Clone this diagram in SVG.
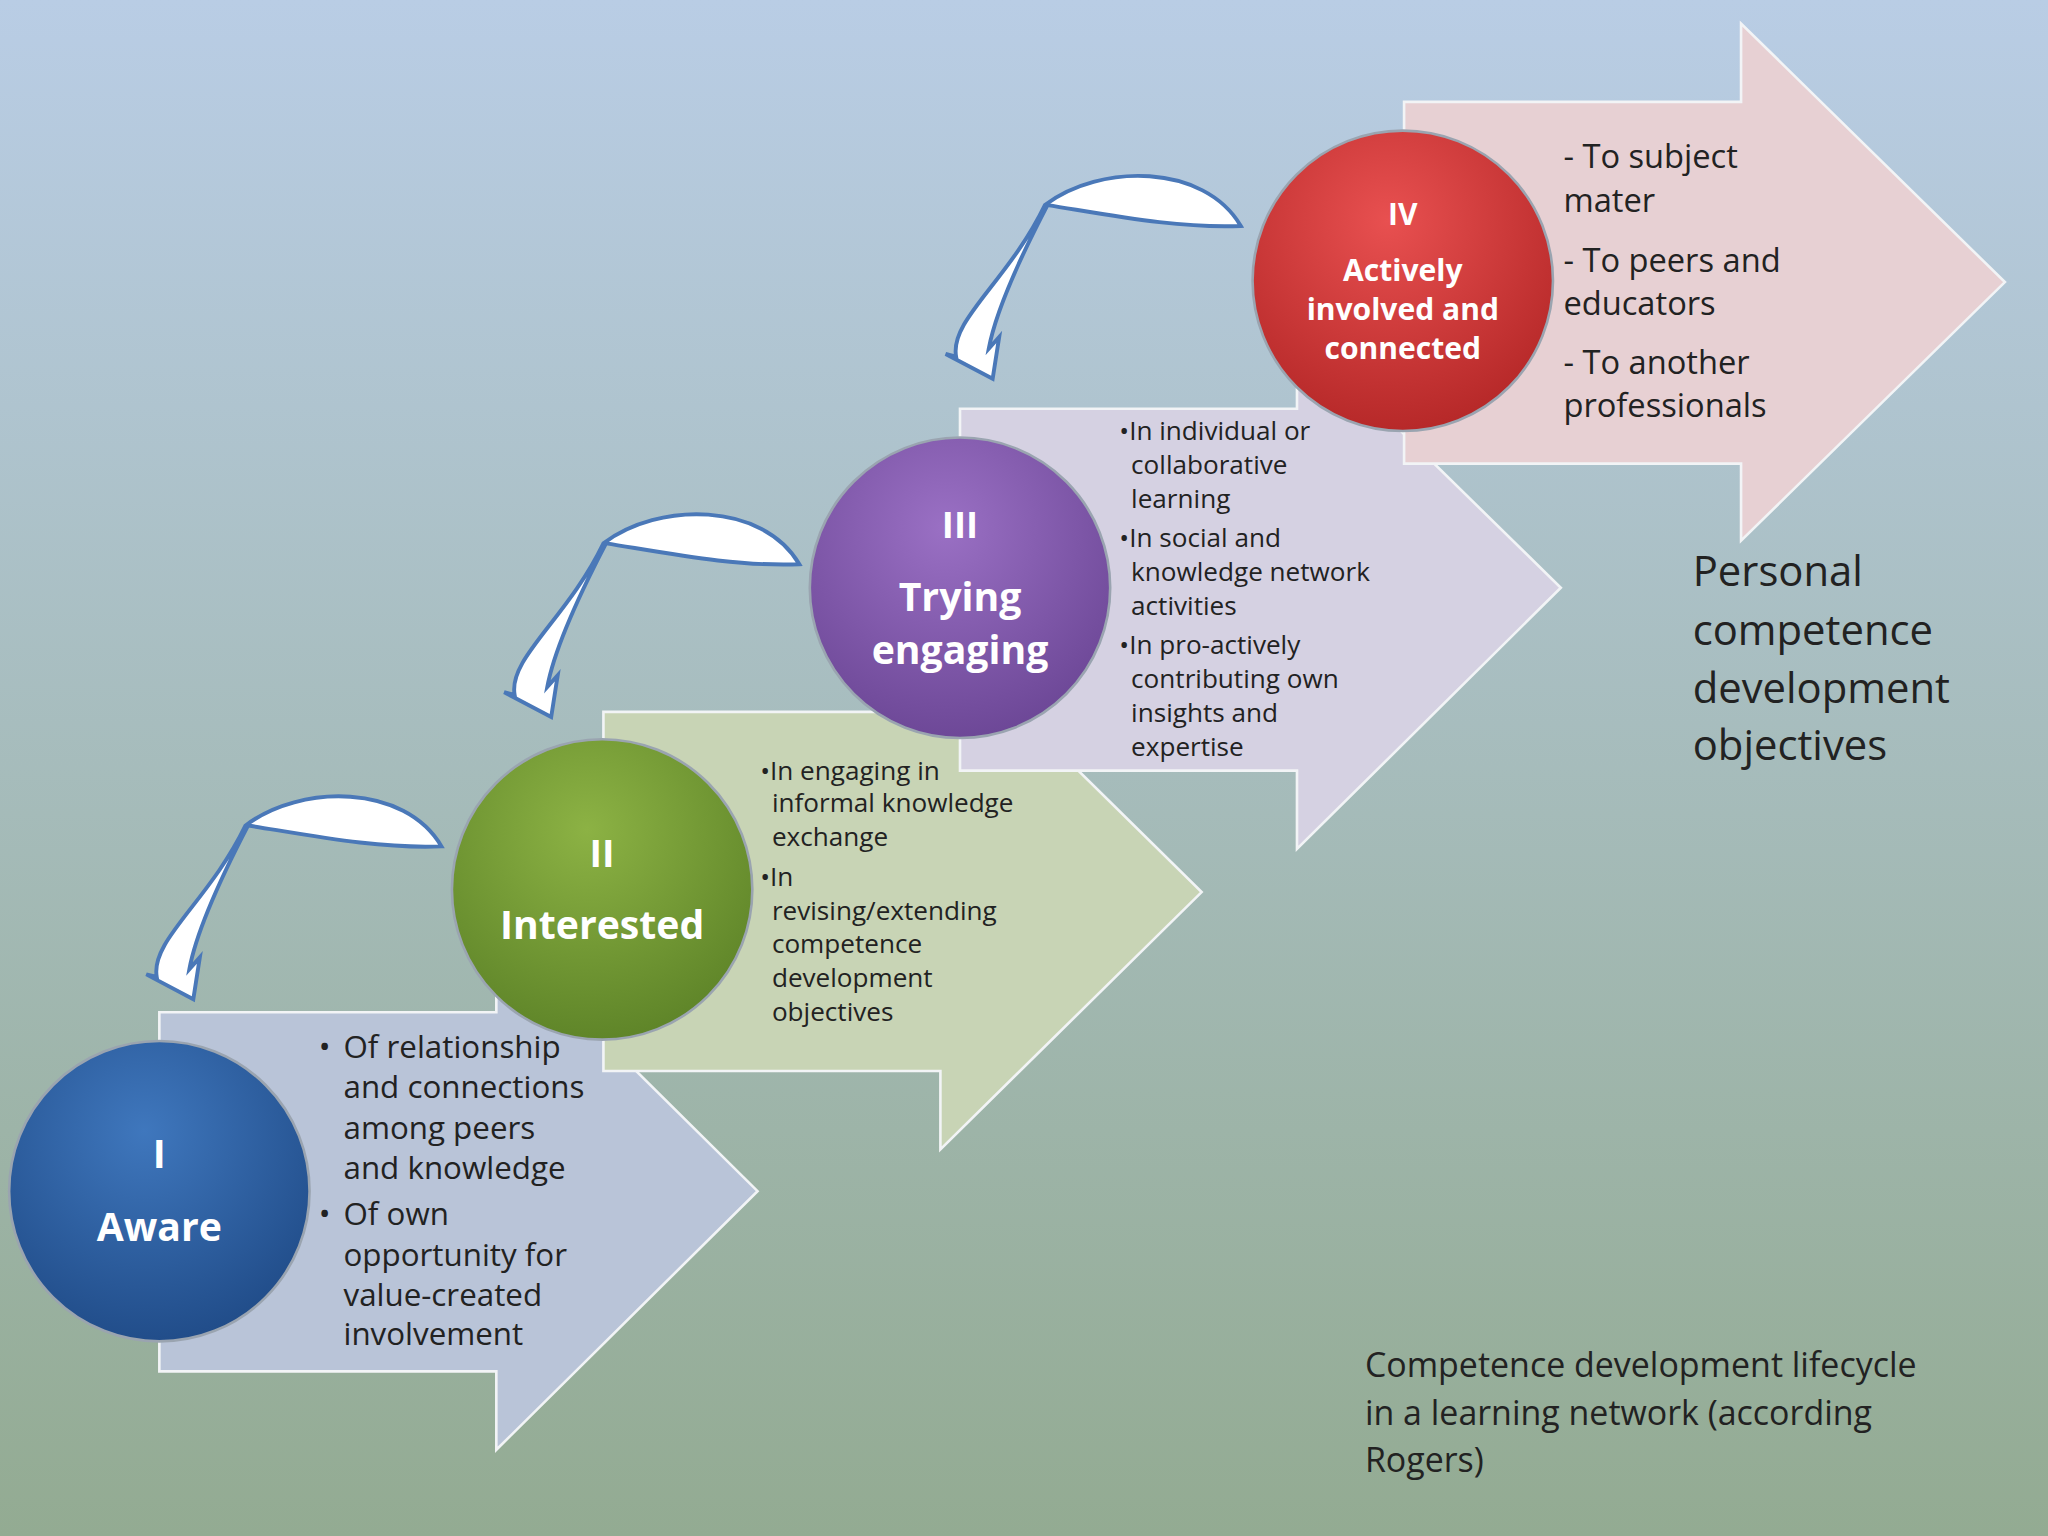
<svg xmlns="http://www.w3.org/2000/svg" width="2048" height="1536" viewBox="0 0 2048 1536">
<defs>
<linearGradient id="bg" x1="0" y1="0" x2="0" y2="1"><stop offset="0" stop-color="#b9cde5"/><stop offset="1" stop-color="#93ab92"/></linearGradient>
<radialGradient id="gb" cx="0.45" cy="0.3" r="0.75"><stop offset="0" stop-color="#3f77bd"/><stop offset="1" stop-color="#1f4a86"/></radialGradient>
<radialGradient id="gg" cx="0.45" cy="0.3" r="0.75"><stop offset="0" stop-color="#8cb244"/><stop offset="1" stop-color="#5c8227"/></radialGradient>
<radialGradient id="gp" cx="0.45" cy="0.3" r="0.75"><stop offset="0" stop-color="#9a70c4"/><stop offset="1" stop-color="#6a4594"/></radialGradient>
<radialGradient id="gr" cx="0.45" cy="0.3" r="0.75"><stop offset="0" stop-color="#e85050"/><stop offset="1" stop-color="#b32626"/></radialGradient>
<style>
.arr{stroke:#f2f4f6;stroke-width:2}
.circ{stroke:#9aa4b0;stroke-width:2}
.ct{font-family:"Open Sans","Liberation Sans",sans-serif;font-weight:bold;fill:#fff;text-anchor:middle}
.bt{font-family:"Open Sans","Liberation Sans",sans-serif;fill:#222}
.curl{fill:#fff;stroke:#4a78b8;stroke-width:3}
</style>
</defs>
<rect width="2048" height="1536" fill="url(#bg)"/>
<g transform="scale(1.30612)">
<g id="arrow1"><path class="arr" fill="#b9c4d8" d="M122,775 H380 V714 L580,912 L380,1110 V1050 H122 Z"/></g>
<g id="arrow2"><path class="arr" fill="#c8d4b5" d="M462,545 H720 V486 L920,683 L720,880 V820 H462 Z"/></g>
<g id="arrow3"><path class="arr" fill="#d5d1e2" d="M735,313 H993 V252 L1195,450 L993,650 V590 H735 Z"/></g>
<g id="arrow4"><path class="arr" fill="#e7d0d3" d="M1075,78 H1333 V18 L1535,216 L1333,414 V355 H1075 Z"/></g>

<g id="connectors">
<path class="curl" d="M338,648 C310,600 230,600 188,632 C160,690 115,720 120,748 L112,746 L148,765 L153,733 L145,742 C150,715 165,680 190,632 C240,640 290,650 338,648 Z"/>
<path class="curl" transform="translate(274,-216)" d="M338,648 C310,600 230,600 188,632 C160,690 115,720 120,748 L112,746 L148,765 L153,733 L145,742 C150,715 165,680 190,632 C240,640 290,650 338,648 Z"/>
<path class="curl" transform="translate(612,-475)" d="M338,648 C310,600 230,600 188,632 C160,690 115,720 120,748 L112,746 L148,765 L153,733 L145,742 C150,715 165,680 190,632 C240,640 290,650 338,648 Z"/>
</g>

<g id="node1"><circle class="circ" cx="122" cy="912" r="115" fill="url(#gb)"/>
<text class="ct" x="122" y="894" font-size="30">I</text><text class="ct" x="122" y="950" font-size="30">Aware</text></g>
<g id="node2"><circle class="circ" cx="461" cy="681" r="115" fill="url(#gg)"/>
<text class="ct" x="461" y="664" font-size="29">II</text><text class="ct" x="461" y="719" font-size="30">Interested</text></g>
<g id="node3"><circle class="circ" cx="735" cy="450" r="115" fill="url(#gp)"/>
<text class="ct" x="735" y="412" font-size="28">III</text><text class="ct" x="735" y="468" font-size="30">Trying</text><text class="ct" x="735" y="508" font-size="30">engaging</text></g>
<g id="node4"><circle class="circ" cx="1074" cy="215" r="115" fill="url(#gr)"/>
<text class="ct" x="1074" y="172" font-size="23">IV</text><text class="ct" x="1074" y="215" font-size="23">Actively</text><text class="ct" x="1074" y="245" font-size="23">involved and</text><text class="ct" x="1074" y="275" font-size="23">connected</text></g>

<g class="bt" font-size="24">
<text x="244" y="810">•</text><text x="263" y="810">Of relationship</text>
<text x="263" y="841">and connections</text><text x="263" y="872">among peers</text><text x="263" y="903">and knowledge</text>
<text x="244" y="938">•</text><text x="263" y="938">Of own</text>
<text x="263" y="969">opportunity for</text><text x="263" y="1000">value-created</text><text x="263" y="1030">involvement</text>
</g>
<g class="bt" font-size="20">
<text x="582" y="597">•In engaging in</text><text x="591" y="622">informal knowledge</text><text x="591" y="648">exchange</text>
<text x="582" y="678">•In</text><text x="591" y="704">revising/extending</text><text x="591" y="730">competence</text><text x="591" y="756">development</text><text x="591" y="782">objectives</text>
<text x="857" y="337">•In individual or</text><text x="866" y="363">collaborative</text><text x="866" y="389">learning</text>
<text x="857" y="419">•In social and</text><text x="866" y="445">knowledge network</text><text x="866" y="471">activities</text>
<text x="857" y="501">•In pro-actively</text><text x="866" y="527">contributing own</text><text x="866" y="553">insights and</text><text x="866" y="579">expertise</text>
</g>
<g class="bt" font-size="25">
<text x="1197" y="129">- To subject</text><text x="1197" y="162">mater</text>
<text x="1197" y="208">- To peers and</text><text x="1197" y="241">educators</text>
<text x="1197" y="286">- To another</text><text x="1197" y="319">professionals</text>
</g>
<g class="bt" font-size="32" fill="#111">
<text x="1296" y="449">Personal</text><text x="1296" y="494">competence</text><text x="1296" y="538">development</text><text x="1296" y="582">objectives</text>
</g>
<g class="bt" font-size="26" fill="#111">
<text x="1045" y="1054">Competence development lifecycle</text><text x="1045" y="1091">in a learning network (according</text><text x="1045" y="1127">Rogers)</text>
</g>
</g>
</svg>
